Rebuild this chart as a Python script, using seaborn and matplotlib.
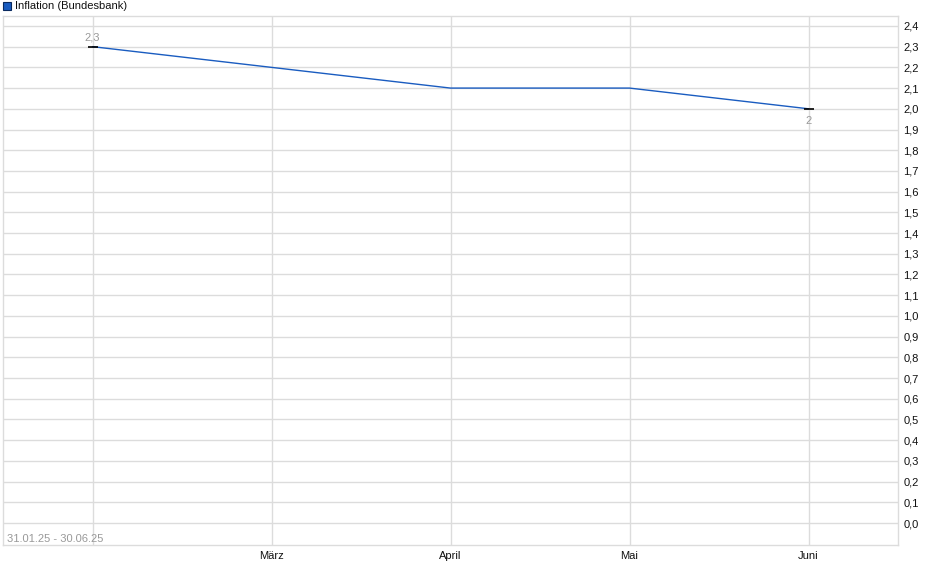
import matplotlib
matplotlib.use("Agg")
import matplotlib.pyplot as plt
import seaborn as sns
import pandas as pd
import numpy as np

# data (monthly inflation, Bundesbank)
months = ["Feb", "März", "April", "Mai", "Juni"]
tick_labels = ["", "März", "April", "Mai", "Juni"]
inflation = [2.3, 2.2, 2.1, 2.1, 2.0]
period = "31.01.25 - 30.06.25"
series_name = "Inflation (Bundesbank)"

df = pd.DataFrame({"pos": range(len(months)), "month": months, "value": inflation})

sns.set_theme(style="white")
plt.rcParams["font.family"] = ["Liberation Sans", "DejaVu Sans"]

fig = plt.figure(figsize=(9.4, 5.79), dpi=100)
ax = fig.add_axes([3 / 940, 34 / 579, 895 / 940, 529 / 579])

line_col = "#1a5cc0"
grid_col = "#dcdcdc"

sns.lineplot(data=df, x="pos", y="value", ax=ax, color=line_col, linewidth=1.0)

# end markers
ends = df.iloc[[0, -1]]
ax.scatter(ends["pos"], ends["value"], marker="_", s=60, color="black", linewidths=1.2, zorder=5)

ax.set_xlim(-0.5, 4.5)
ax.set_ylim(-0.106, 2.448)

ax.set_xticks(df["pos"])
ax.set_xticklabels(tick_labels, fontsize=8, color="#111111")
yt = np.round(np.arange(0, 2.41, 0.1), 1)
ax.set_yticks(yt)
ax.set_yticklabels([f"{v:.1f}".replace(".", ",") for v in yt], fontsize=8, color="#111111")
ax.yaxis.tick_right()
ax.tick_params(axis="both", length=0, pad=4)
ax.tick_params(axis="x", pad=4)

ax.grid(True, color=grid_col, linewidth=1.0)
ax.set_axisbelow(True)
for s in ax.spines.values():
    s.set_color(grid_col)
    s.set_linewidth(1.0)

ax.set_xlabel("")
ax.set_ylabel("")

# value labels at the ends
first, last = df.iloc[0], df.iloc[-1]
ax.annotate(f"{first['value']:g}".replace(".", ","), (first["pos"], first["value"]),
            xytext=(0, 3), textcoords="offset points", ha="center", va="bottom",
            fontsize=8, color="#999999")
ax.annotate(f"{last['value']:g}".replace(".", ","), (last["pos"], last["value"]),
            xytext=(0, -5), textcoords="offset points", ha="center", va="top",
            fontsize=8, color="#999999")

ax.text(4 / 895, 1 / 529, period, transform=ax.transAxes, fontsize=8,
        color="#999999", ha="left", va="bottom")

# legend box at top-left
fig.patches.append(plt.Rectangle((3 / 940, 1 - 10 / 579), 8 / 940, 8 / 579,
                                 transform=fig.transFigure, facecolor=line_col,
                                 edgecolor="#0a2a60", linewidth=0.8))
fig.text(15 / 940, 1 - 6 / 579, series_name, fontsize=8, color="#111111",
         ha="left", va="center")

fig.savefig("out.png", dpi=100)
